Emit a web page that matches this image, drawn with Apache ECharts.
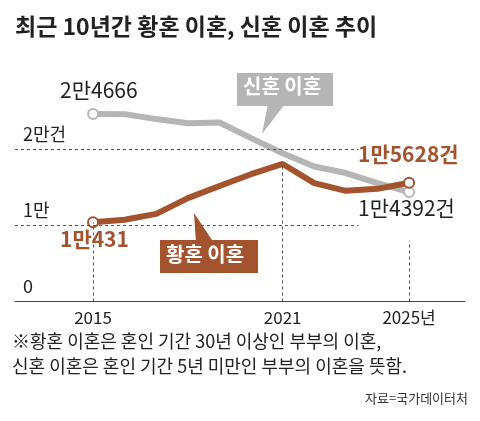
<!DOCTYPE html>
<html><head><meta charset="utf-8">
<script src="https://cdn.jsdelivr.net/npm/echarts@6/dist/echarts.min.js"></script>
<style>html,body{margin:0;background:#fff}#c{width:480px;height:421px}</style>
</head><body><div id="c"></div>
<script>
const years = [2015, 2016, 2017, 2018, 2019, 2020, 2021, 2022, 2023, 2024, 2025]
const newlywed = [24666, 24650, 24000, 23460, 23550, 21500, 19500, 17760, 16900, 15570, 14392]
const gray = [10431, 10750, 11530, 13600, 15200, 16750, 18100, 15570, 14560, 14820, 15628]
const xTicks = [2015, 2021, 2025]
const yTicks = [0, 10000, 20000]

const GRAY = '#b5b5b5'
const BROWN = '#a4532f'
const FONT = '"Noto Sans CJK KR", sans-serif'

const endSym = (data) => data.map((v, i) => ({
  value: [years[i], v],
  symbol: (i === 0 || i === data.length - 1) ? 'circle' : 'none',
  symbolSize: 10,
}))

const dash = { type: [3, 3], color: '#555', width: 1 }

const chart = echarts.init(document.getElementById('c'))
chart.setOption({
  animation: false,
  textStyle: { fontFamily: FONT },
  title: {
    text: '최근 10년간 황혼 이혼, 신혼 이혼 추이',
    left: 10, top: 10,
    textStyle: { fontSize: 23, fontWeight: 'bold', color: '#222', fontFamily: FONT },
  },
  grid: { left: 15, right: 15, top: 111.5, bottom: 119.5 },
  xAxis: {
    type: 'value', min: 2012.53, max: 2026.77,
    splitLine: { show: false },
    axisLine: { lineStyle: { color: '#444', width: 1 } },
    axisTick: { show: false },
    axisLabel: {
      customValues: xTicks, fontSize: 17, color: '#222', margin: 8,
      formatter: (v) => (v === 2025 ? v + '년' : String(v)),
    },
  },
  yAxis: {
    type: 'value', min: 0, max: 25000,
    splitLine: { show: false }, axisLine: { show: false }, axisTick: { show: false },
    axisLabel: {
      customValues: yTicks, inside: true, verticalAlign: 'bottom', fontSize: 18, color: '#222',
      padding: [0, 0, 6, 0],
      formatter: (v) => (v === 0 ? '0' : v === 10000 ? '1만' : '2만건'),
    },
  },
  series: [
    {
      type: 'line', data: endSym(newlywed), z: 2,
      lineStyle: { color: GRAY, width: 6 },
      itemStyle: { color: '#fff', borderColor: GRAY, borderWidth: 2 },
      markLine: {
        silent: true, symbol: 'none', label: { show: false }, lineStyle: dash,
        data: [
          [{ coord: [2012.53, 10000] }, { coord: [2023.4, 10000] }],
          [{ coord: [2012.53, 20000] }, { coord: [2023.4, 20000] }],
          [{ coord: [2015, 0] }, { coord: [2015, 10431] }],
          [{ coord: [2021, 0] }, { coord: [2021, 18100] }],
          [{ coord: [2025, 0] }, { coord: [2025, 8000] }],
        ],
      },
    },
    {
      type: 'line', data: endSym(gray), z: 3,
      lineStyle: { color: BROWN, width: 6 },
      itemStyle: { color: '#fff', borderColor: BROWN, borderWidth: 2 },
    },
  ],
  graphic: [
    { type: 'text', left: 60, top: 80, style: { text: '2만4666', font: '21px ' + FONT, fill: '#222' } },
    { type: 'text', left: 60, top: 229, style: { text: '1만431', font: 'bold 21px ' + FONT, fill: BROWN } },
    { type: 'text', left: 358, top: 144, style: { text: '1만5628건', font: 'bold 21px ' + FONT, fill: BROWN } },
    { type: 'text', left: 358, top: 198, style: { text: '1만4392건', font: '21px ' + FONT, fill: '#222' } },
    { type: 'polygon', shape: { points: [[268, 104], [285, 104], [262, 134]] }, style: { fill: GRAY } },
    { type: 'rect', shape: { x: 237, y: 73, width: 96, height: 33 }, style: { fill: GRAY } },
    { type: 'text', left: 243, top: 76, style: { text: '신혼 이혼', font: 'bold 20px ' + FONT, fill: '#fff' } },
    { type: 'polygon', shape: { points: [[196, 243], [214, 243], [194, 213]] }, style: { fill: BROWN } },
    { type: 'rect', shape: { x: 160, y: 240, width: 98, height: 33 }, style: { fill: BROWN } },
    { type: 'text', left: 166, top: 244, style: { text: '황혼 이혼', font: 'bold 20px ' + FONT, fill: '#fff' } },
    { type: 'text', left: 12, top: 332, style: { text: '※황혼 이혼은 혼인 기간 30년 이상인 부부의 이혼,', font: '18px ' + FONT, fill: '#222' } },
    { type: 'text', left: 12, top: 357, style: { text: '신혼 이혼은 혼인 기간 5년 미만인 부부의 이혼을 뜻함.', font: '18px ' + FONT, fill: '#222' } },
    { type: 'text', right: 12, top: 392, style: { text: '자료=국가데이터처', font: '13px ' + FONT, fill: '#333' } },
  ],
})
</script></body></html>
